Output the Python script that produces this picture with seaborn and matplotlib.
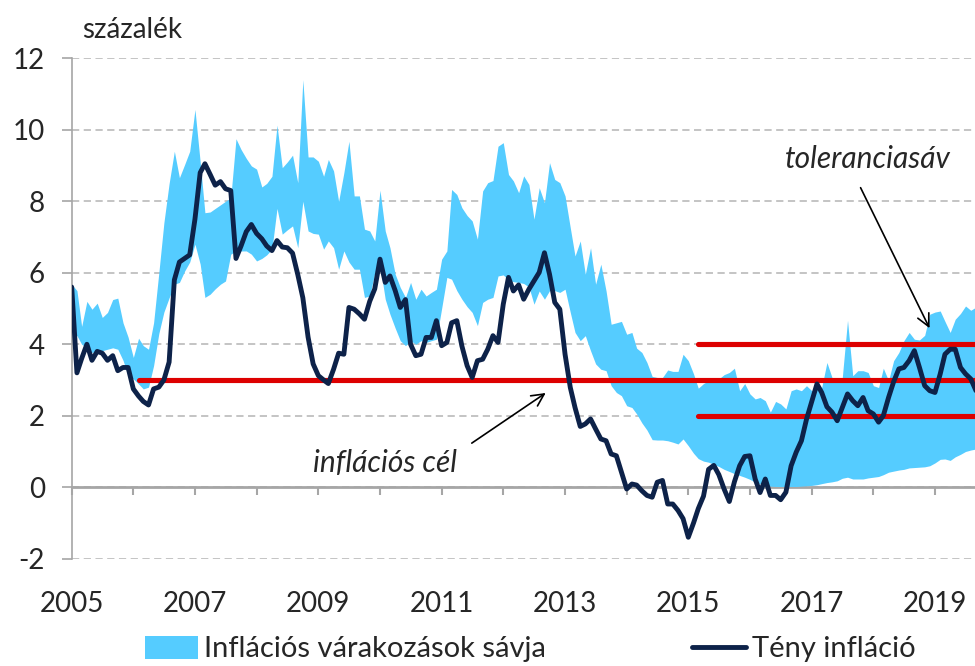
import numpy as np
import pandas as pd
import seaborn as sns
import matplotlib.pyplot as plt
import matplotlib.dates as mdates
from matplotlib.ticker import FuncFormatter

sns.set_style("white")
plt.rcParams['font.family'] = ['Lato', 'DejaVu Sans']
plt.rcParams['axes.unicode_minus'] = False

# havi adatok, 2005 jan - 2019 szept
START = '2005-01-01'

teny_inflacio = [
    5.6, 3.2, 3.6, 4.0, 3.55, 3.8, 3.75, 3.55, 3.68, 3.26, 3.35, 3.35,
    2.75, 2.55, 2.4, 2.3, 2.75, 2.8, 3.0, 3.5, 5.8, 6.3, 6.4, 6.5,
    7.5, 8.8, 9.05, 8.75, 8.45, 8.55, 8.35, 8.3, 6.4, 6.75, 7.15, 7.35,
    7.1, 6.95, 6.75, 6.62, 6.9, 6.72, 6.7, 6.55, 5.95, 5.3, 4.2, 3.45,
    3.12, 3.0, 2.9, 3.3, 3.75, 3.72, 5.03, 4.98, 4.85, 4.7, 5.2, 5.55,
    6.38, 5.73, 5.91, 5.5, 5.03, 5.25, 4.0, 3.68, 3.72, 4.19, 4.19, 4.66,
    3.96, 4.05, 4.6, 4.66, 3.95, 3.4, 3.07, 3.54, 3.58, 3.86, 4.24, 4.05,
    5.12, 5.87, 5.49, 5.66, 5.26, 5.54, 5.77, 6.01, 6.56, 5.96, 5.17, 4.98,
    3.72, 2.79, 2.23, 1.7, 1.77, 1.91, 1.63, 1.35, 1.3, 0.93, 0.88, 0.42,
    -0.05, 0.09, 0.06, -0.1, -0.23, -0.28, 0.14, 0.19, -0.47, -0.47, -0.65, -0.88,
    -1.4, -1.0, -0.6, -0.25, 0.5, 0.61, 0.35, -0.05, -0.4, 0.15, 0.6, 0.86,
    0.88, 0.23, -0.15, 0.23, -0.23, -0.23, -0.35, -0.14, 0.6, 0.98, 1.3, 1.9,
    2.4, 2.89, 2.65, 2.25, 2.1, 1.86, 2.23, 2.61, 2.42, 2.28, 2.51, 2.14,
    2.05, 1.82, 2.0, 2.51, 2.95, 3.31, 3.35, 3.54, 3.82, 3.35, 2.84, 2.7,
    2.65, 3.17, 3.72, 3.86, 3.86, 3.35, 3.17, 3.03, 2.7,
]

sav_felso = [
    5.68, 5.5, 4.5, 5.2, 4.98, 5.15, 4.75, 4.89, 5.25, 5.29, 4.6, 4.2,
    3.63, 4.17, 3.96, 3.86, 4.6, 6.0, 7.4, 8.5, 9.4, 8.66, 9.03, 9.4,
    10.57, 9.1, 7.68, 7.7, 7.8, 7.9, 8.0, 8.1, 9.75, 9.45, 9.2, 8.99,
    8.9, 8.4, 8.5, 8.7, 10.13, 8.94, 9.1, 9.29, 8.52, 11.4, 9.24, 9.24,
    9.12, 8.7, 9.17, 8.85, 8.0, 8.8, 9.68, 8.15, 8.15, 7.22, 7.17, 6.89,
    8.31, 7.17, 6.7, 5.96, 5.59, 5.31, 5.73, 5.26, 5.54, 5.35, 5.45, 5.54,
    6.38, 6.61, 8.33, 8.19, 7.82, 7.6, 7.45, 6.94, 8.29, 8.52, 8.58, 9.54,
    9.64, 8.75, 8.57, 8.24, 8.71, 8.47, 7.5, 8.38, 7.96, 9.08, 8.61, 8.52,
    8.15, 7.26, 6.47, 6.89, 5.96, 6.7, 5.68, 6.24, 5.49, 4.56, 4.6, 4.64,
    4.28, 4.33, 3.89, 3.77, 3.49, 3.1, 3.07, 3.07, 3.28, 3.24, 3.24, 3.72,
    3.54, 3.17, 2.77, 2.9, 2.98, 3.0, 3.03, 3.15, 3.21, 3.33, 2.7, 2.9,
    2.61, 2.47, 2.51, 2.42, 2.1, 2.4, 2.33, 2.19, 2.7, 2.75, 2.7, 2.84,
    2.7, 2.8, 2.79, 3.49, 3.07, 3.03, 3.07, 4.67, 3.12, 3.26, 3.26, 3.21,
    2.84, 2.79, 3.33, 2.98, 3.54, 3.77, 4.1, 4.33, 4.14, 4.12, 4.25, 4.84,
    4.9, 4.93, 4.64, 4.33, 4.7, 4.86, 5.07, 4.95, 5.04,
]

sav_also = [
    4.3, 4.24, 4.0, 3.9, 3.77, 3.8, 3.82, 3.86, 3.9, 3.86, 3.55, 3.12,
    3.03, 2.89, 2.75, 2.8, 3.4, 4.3, 4.9, 5.3, 5.68, 5.73, 6.05, 6.3,
    6.8, 6.24, 5.31, 5.4, 5.55, 5.68, 5.77, 6.52, 6.61, 6.61, 6.61, 6.52,
    6.33, 6.4, 6.5, 6.66, 7.8, 7.08, 7.2, 7.31, 6.7, 8.0, 7.17, 7.1,
    7.08, 6.66, 6.89, 6.7, 6.1, 6.61, 6.3, 6.1, 6.1, 5.31, 5.35, 6.0,
    6.2, 5.26, 4.84, 4.45, 4.1, 3.96, 4.1, 4.0, 4.1, 4.05, 4.1, 4.14,
    5.0, 5.87, 5.82, 5.5, 5.26, 5.05, 4.89, 4.52, 5.17, 5.26, 5.31, 5.91,
    5.94, 5.8, 5.75, 5.73, 5.7, 5.6, 5.12, 5.49, 5.26, 5.5, 5.5, 5.45,
    5.54, 4.89, 4.33, 4.1, 4.24, 3.82, 3.45, 3.3, 3.26, 2.84, 2.65, 2.56,
    2.28, 2.23, 2.05, 1.8, 1.6, 1.33, 1.32, 1.32, 1.3, 1.26, 1.21, 1.35,
    1.16, 0.95, 0.8, 0.73, 0.7, 0.64, 0.58, 0.5, 0.44, 0.38, 0.33, 0.28,
    0.22, 0.14, 0.1, 0.05, 0.03, 0.02, 0.02, 0.02, 0.02, 0.02, 0.03, 0.04,
    0.05, 0.07, 0.1, 0.13, 0.15, 0.18, 0.25, 0.28, 0.23, 0.23, 0.23, 0.26,
    0.28, 0.3, 0.35, 0.42, 0.45, 0.48, 0.5, 0.54, 0.55, 0.56, 0.57, 0.6,
    0.68, 0.78, 0.79, 0.75, 0.85, 0.92, 1.0, 1.04, 1.07,
]

inflacios_cel = 3.0
cel_kezdete = '2006-02-01'
tolerancia = [2.0, 4.0]
tolerancia_kezdete = '2015-03-01'

y_ticks = [-2, 0, 2, 4, 6, 8, 10, 12]

KEK = '#55CCFF'
SOTETKEK = '#0D2249'
PIROS = '#DD0000'
SZURKE = '#A6A6A6'
FS = 20          # tengelyfeliratok
FS_LEG = 21
FS_NOTE = 21.5

dates = pd.date_range(START, periods=len(teny_inflacio), freq='MS')
df = pd.DataFrame({'date': dates, 'teny': teny_inflacio,
                   'also': sav_also, 'felso': sav_felso})

fig = plt.figure(figsize=(9.75, 6.66), dpi=100)
ax = fig.add_axes([71.7 / 975, 1 - 558.7 / 666, (975 - 71.7) / 975, (558.7 - 58.3) / 666])

ax.fill_between(df['date'], df['also'], df['felso'], color=KEK, lw=0,
                label='Inflációs várakozások sávja', zorder=2)

end = df['date'].iloc[-1]
ax.hlines(inflacios_cel, pd.Timestamp(cel_kezdete), end, color=PIROS, lw=3.7,
          capstyle='round', zorder=3)
ax.hlines(tolerancia, pd.Timestamp(tolerancia_kezdete), end, color=PIROS, lw=3.7,
          capstyle='round', zorder=3)

sns.lineplot(data=df, x='date', y='teny', ax=ax, color=SOTETKEK, lw=3.5,
             label='Tény infláció', zorder=4)

ax.set_ylim(-2, 12)
ax.set_xlim(df['date'].iloc[0], end - pd.Timedelta(days=6))
ax.set_yticks(y_ticks)
ax.yaxis.set_major_formatter(FuncFormatter(lambda v, p: f'{int(v)}'))
ax.set_xlabel('')
ax.set_ylabel('')

ax.set_axisbelow(True)
ax.yaxis.grid(True, color='#BFBFBF', lw=1.3, linestyle=(0, (4, 2.5)))
ax.xaxis.grid(False)

for s in ['top', 'right']:
    ax.spines[s].set_visible(False)
ax.spines['left'].set_color(SZURKE)
ax.spines['left'].set_linewidth(1.2)
ax.spines['bottom'].set_position(('data', 0))
ax.spines['bottom'].set_color(SZURKE)
ax.spines['bottom'].set_linewidth(2)
ax.spines['bottom'].set_zorder(1.5)

ax.xaxis.set_major_locator(mdates.YearLocator(1))
ax.xaxis.set_major_formatter(FuncFormatter(
    lambda v, p: str(mdates.num2date(v).year) if mdates.num2date(v).year % 2 == 1 else ''))
ax.tick_params(axis='x', direction='out', length=6, width=1.5, color=SZURKE,
               labelsize=FS, pad=69)
ax.tick_params(axis='y', direction='out', length=7.2, width=1.2, color=SZURKE,
               labelsize=FS, pad=12)
ax.tick_params(left=True, bottom=True)

ax.get_legend().remove()

fig.text(82 / 975, 1 - 30 / 666, 'százalék', fontsize=FS, va='center', ha='left')

ax.annotate('', xy=(pd.Timestamp('2012-09-22'), 2.68), xytext=(pd.Timestamp('2011-06-15'), 1.19),
            arrowprops=dict(arrowstyle='->', color='black', lw=1.2, mutation_scale=22))
ax.text(pd.Timestamp('2010-02-01'), 0.69, 'inflációs cél', fontsize=FS_NOTE, style='italic',
        ha='center', va='center')
ax.annotate('', xy=(pd.Timestamp('2018-12-07'), 4.38), xytext=(pd.Timestamp('2017-10-10'), 8.45),
            arrowprops=dict(arrowstyle='->', color='black', lw=1.2, mutation_scale=22))
ax.text(pd.Timestamp('2017-12-01'), 9.18, 'toleranciasáv', fontsize=FS_NOTE, style='italic',
        ha='center', va='center')

# jelmagyarázat az ábra alján
handles, labels = ax.get_legend_handles_labels()
fig.legend(handles, labels, loc='center', bbox_to_anchor=(530 / 975, 17 / 666), ncol=2,
           frameon=False, fontsize=FS_LEG, handlelength=1.85, handleheight=0.85,
           columnspacing=5.0, handletextpad=0.2, borderpad=0)

fig.savefig('out.png', dpi=100)
